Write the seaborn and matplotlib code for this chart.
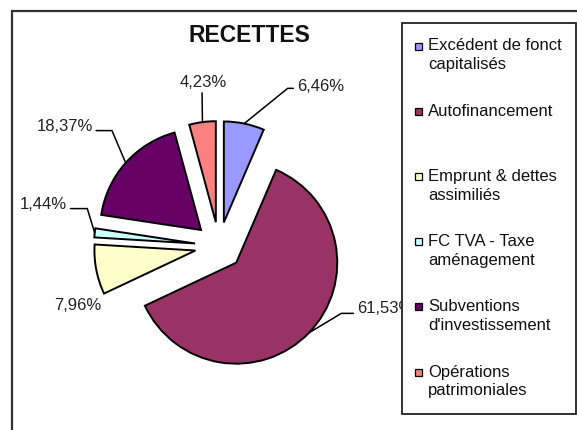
import numpy as np
import matplotlib.pyplot as plt
import seaborn as sns
from matplotlib.patches import Rectangle

categories = ["Excédent de fonct\ncapitalisés", "Autofinancement",
              "Emprunt & dettes\nassimiliés", "FC TVA - Taxe\naménagement",
              "Subventions\nd'investissement", "Opérations\npatrimoniales"]
shares = [6.46, 61.53, 7.96, 1.44, 18.37, 4.23]
colors = ["#9999FF", "#993366", "#FFFFCC", "#CCFFFF", "#660066", "#FF8080"]
pct_labels = [f"{v:.2f}%".replace(".", ",") for v in shares]

# label layout (pixels): offset of each label from the outer middle of its slice,
# where the leader leaves the text box and its angle near the slice
label_offsets = [(76, 37), (76, 24), (-18, -36), (-51, 28), (-61, 36), (1, 40)]
leader_relpos = [(0, 0.38), (0, 0.2), None, (1, 0.25), (1, 0.25), (0.47, 0)]
leader_angle = [39, 31, None, 107, 113, None]

sns.set_theme(style="white")
plt.rcParams["font.family"] = ["Liberation Sans", "DejaVu Sans"]

W, H = 577, 430
fig = plt.figure(figsize=(W / 100, H / 100), dpi=100, facecolor="white")
ax = fig.add_axes([0, 0, 1, 1])

wedges, _ = ax.pie(shares, colors=colors, startangle=90, counterclock=False,
                   radius=101, center=(219, H - 246), explode=[24] * len(shares),
                   wedgeprops=dict(edgecolor="black", linewidth=1.4))
ax.set_xlim(0, W)
ax.set_ylim(0, H)
ax.set_aspect("equal")
ax.axis("off")

for w, lab, off, rp, ang in zip(wedges, pct_labels, label_offsets, leader_relpos, leader_angle):
    mid = np.deg2rad((w.theta1 + w.theta2) / 2)
    xy = (w.center[0] + w.r * np.cos(mid), w.center[1] + w.r * np.sin(mid))
    if rp is None:
        ax.annotate(lab, xy=xy, xytext=off, textcoords="offset pixels",
                    ha="center", va="center", fontsize=12, color="#222222")
        continue
    cs = "arc3,rad=0" if ang is None else f"angle,angleA=0,angleB={ang},rad=0"
    ax.annotate(lab, xy=xy, xytext=off, textcoords="offset pixels",
                ha="center", va="center", fontsize=12, color="#222222",
                arrowprops=dict(arrowstyle="-", color="black", lw=1.1,
                                shrinkA=0, shrinkB=0, relpos=rp,
                                connectionstyle=cs))

ax.text(249, H - 35, "RECETTES", ha="center", va="center",
        fontsize=16.5, fontweight="bold", color="#111111")

# outer chart frame: only its left and top edges fall inside the picture
ax.plot([12, 12, W + 10], [-10, H - 10.5, H - 10.5], color="#333333",
        lw=1.6, clip_on=False, zorder=9, solid_joinstyle="miter")

# legend box
ax.add_patch(Rectangle((402, H - 414), 174, 391, facecolor="white",
                       edgecolor="#222222", lw=1.3, zorder=10))
for i, (cat, col) in enumerate(zip(categories, colors)):
    y = H - (46 + i * 65.2)
    ax.add_patch(Rectangle((415, y - 3.5), 7, 7, facecolor=col,
                           edgecolor="black", lw=0.9, zorder=11))
    for k, line in enumerate(cat.split("\n")):
        ax.text(428, y - k * 19, line, ha="left", va="center",
                fontsize=12, color="#111111", zorder=11)

fig.savefig("out.png", dpi=100, facecolor="white")
